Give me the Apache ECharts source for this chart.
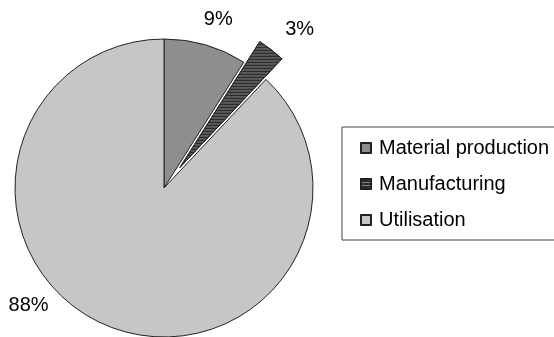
<!DOCTYPE html>
<html>
<head>
<meta charset="utf-8">
<script src="https://cdn.jsdelivr.net/npm/echarts@6/dist/echarts.min.js"></script>
<style>
  html, body { margin: 0; padding: 0; background: #fff; }
  #chart { width: 554px; height: 337px; }
</style>
</head>
<body>
<div id="chart"></div>
<script>
// Share of each life-cycle phase (percent)
const phases = ['Material production', 'Manufacturing', 'Utilisation'];
const shares = [9, 3, 88];
const phaseColors = ['#8e8e8e', '#2e2e2e', '#c6c6c6'];
const explodedPhase = 'Manufacturing';

// Nudges for the percentage labels, placed around the rim
const labelNudge = [
  { dx: -14, dy: 0 },
  { dx: -7, dy: 0 },
  { dx: -46, dy: -45 }
];

const chart = echarts.init(document.getElementById('chart'), null, { renderer: 'canvas' });

const pieData = phases.map((name, i) => {
  const item = {
    name: name,
    value: shares[i],
    selected: name === explodedPhase,
    itemStyle: { color: phaseColors[i] }
  };
  if (name === explodedPhase) {
    // hatched fill for the dark slice
    item.itemStyle.decal = {
      symbol: 'rect',
      dashArrayX: [1, 0],
      dashArrayY: [1, 2],
      color: 'rgba(255,255,255,0.4)',
      rotation: 0,
      symbolSize: 1
    };
  }
  return item;
});

chart.setOption({
  animation: false,
  backgroundColor: '#ffffff',
  aria: { enabled: true, decal: { show: false } },
  legend: {
    orient: 'vertical',
    left: 342,
    top: 127,
    padding: [11, 12, 10, 18],
    itemGap: 16,
    itemWidth: 10,
    itemHeight: 10,
    icon: 'rect',
    borderColor: '#444',
    borderWidth: 1,
    borderRadius: 0,
    selectedMode: false,
    data: phases,
    textStyle: {
      fontFamily: 'Liberation Sans, Arial, sans-serif',
      fontSize: 20,
      color: '#000',
      padding: [0, 0, 0, 3],
      lineHeight: 20
    }
  },
  series: [{
    type: 'pie',
    center: [164, 188],
    radius: 149,
    startAngle: 90,
    clockwise: true,
    selectedMode: 'multiple',
    selectedOffset: 26,
    avoidLabelOverlap: false,
    itemStyle: { borderColor: '#222', borderWidth: 1 },
    select: { itemStyle: { borderColor: '#222', borderWidth: 1 } },
    emphasis: { disabled: true },
    label: {
      show: true,
      position: 'outside',
      formatter: '{c}%',
      fontFamily: 'Liberation Sans, Arial, sans-serif',
      fontSize: 20,
      color: '#000'
    },
    labelLine: { show: false, length: 26, length2: 0 },
    labelLayout: function (params) {
      return labelNudge[params.dataIndex];
    },
    data: pieData
  }]
});
</script>
</body>
</html>
